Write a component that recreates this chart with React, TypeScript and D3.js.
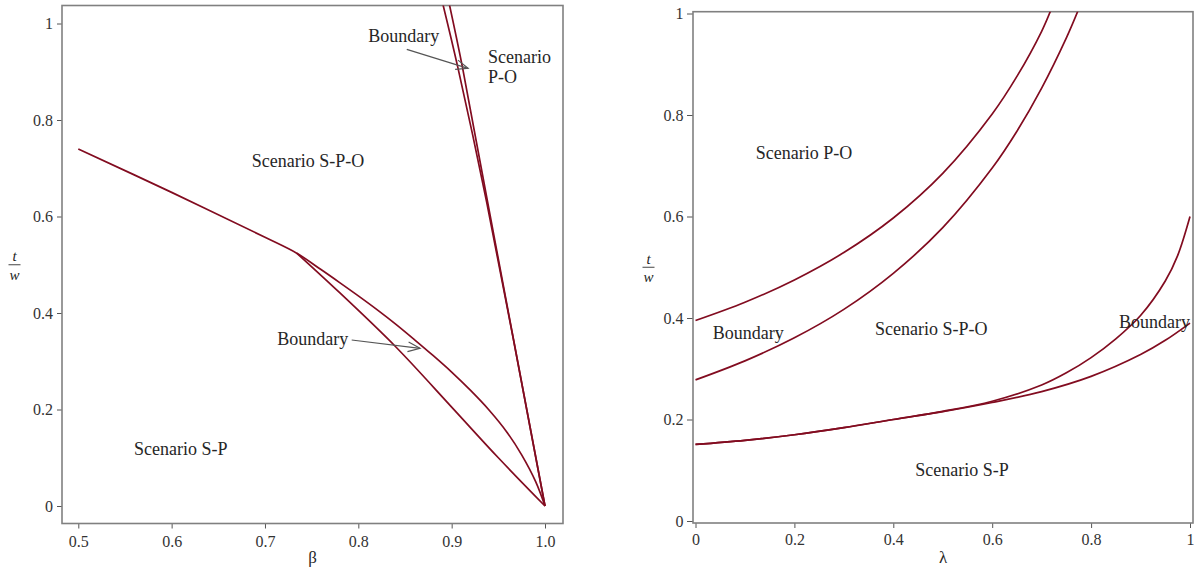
import React, { useEffect, useRef } from 'react';
import * as d3 from 'd3';

// ---- left panel: t/w against beta ----
const betaTicks = [0.5, 0.6, 0.7, 0.8, 0.9, 1.0];
const betaTickLabels = ['0.5', '0.6', '0.7', '0.8', '0.9', '1.0'];
const twTicks = [0, 0.2, 0.4, 0.6, 0.8, 1];
const twTickLabels = ['0', '0.2', '0.4', '0.6', '0.8', '1'];

// S-P boundary: shared start, then the upper branch after the split
const outerBeta = [0.5, 0.6, 0.7, 0.734, 0.76, 0.78, 0.8, 0.82, 0.84, 0.86, 0.88, 0.9, 0.92, 0.94, 0.96, 0.975, 0.99, 1.0];
const outerTw = [0.74, 0.65, 0.557, 0.524, 0.49, 0.463, 0.4355, 0.407, 0.377, 0.345, 0.312, 0.2775, 0.24, 0.199, 0.151, 0.106, 0.0505, 0];
// lower branch after the split
const innerBeta = [0.734, 0.78, 0.84, 0.9, 0.95, 1.0];
const innerTw = [0.524, 0.442, 0.33, 0.205, 0.1, 0];
// the two steep P-O boundaries
const steepABeta = [0.8906, 0.9065, 0.9375, 1.0];
const steepATw = [1.04, 0.91, 0.63, 0];
const steepBBeta = [0.8975, 0.9115, 0.9385, 1.0];
const steepBTw = [1.04, 0.91, 0.63, 0];

// ---- right panel: t/w against lambda ----
const lambdaTicks = [0, 0.2, 0.4, 0.6, 0.8, 1];
const lambdaTickLabels = ['0', '0.2', '0.4', '0.6', '0.8', '1'];

const poLambda = [0, 0.1, 0.2, 0.3, 0.4, 0.5, 0.6, 0.65, 0.7, 0.72];
const poTw = [0.395, 0.431, 0.475, 0.529, 0.597, 0.685, 0.802, 0.876, 0.965, 1.01];
const spoLambda = [0, 0.1, 0.2, 0.3, 0.4, 0.5, 0.6, 0.65, 0.7, 0.75, 0.775];
const spoTw = [0.278, 0.3155, 0.361, 0.417, 0.488, 0.578, 0.6955, 0.768, 0.853, 0.952, 1.009];
const spSteepLambda = [0, 0.1, 0.2, 0.3, 0.4, 0.5, 0.6, 0.7, 0.75, 0.8, 0.85, 0.9, 0.95, 0.975, 1.0];
const spSteepTw = [0.151, 0.159, 0.17, 0.184, 0.2, 0.216, 0.236, 0.268, 0.292, 0.322, 0.359, 0.405, 0.473, 0.523, 0.6];
const spFlatLambda = [0, 0.1, 0.2, 0.3, 0.4, 0.5, 0.6, 0.7, 0.8, 0.9, 0.95, 1.0];
const spFlatTw = [0.151, 0.159, 0.17, 0.184, 0.2, 0.2155, 0.2335, 0.255, 0.285, 0.328, 0.356, 0.39];

const FONT = "'Liberation Serif', 'Times New Roman', Times, serif";
const CURVE = '#820c20';
const FRAME = '#808080';
const INK = '#262626';

type Note = { text: string; x: number; y: number };
type Arrow = { from: [number, number]; to: [number, number] };

const leftNotes: Note[] = [
  { text: 'Boundary', x: 0.8107, y: 0.962 },
  { text: 'Scenario', x: 0.939, y: 0.919 },
  { text: 'P-O', x: 0.939, y: 0.877 },
  { text: 'Scenario S-P-O', x: 0.6858, y: 0.7032 },
  { text: 'Boundary', x: 0.7132, y: 0.3337 },
  { text: 'Scenario S-P', x: 0.5597, y: 0.1057 },
];
const leftArrows: Arrow[] = [
  { from: [0.8519, 0.9465], to: [0.9176, 0.9071] },
  { from: [0.7929, 0.344], to: [0.8661, 0.3268] },
];
const rightNotes: Note[] = [
  { text: 'Scenario P-O', x: 0.1217, y: 0.7127 },
  { text: 'Boundary', x: 0.0348, y: 0.358 },
  { text: 'Scenario S-P-O', x: 0.363, y: 0.3665 },
  { text: 'Boundary', x: 0.8564, y: 0.3797 },
  { text: 'Scenario S-P', x: 0.4445, y: 0.0887 },
];

type Panel = {
  id: string;
  x: d3.ScaleLinear<number, number>;
  y: d3.ScaleLinear<number, number>;
  frame: [number, number, number, number];
  xTicks: number[];
  xLabels: string[];
  xTitle: string;
  xPad: number;
  yTickSize: number;
  yPad: number;
  yTitleX: number;
  curves: [number[], number[]][];
  notes: Note[];
  arrows: Arrow[];
};

const panels: Panel[] = [
  {
    id: 'clip-beta',
    x: d3.scaleLinear().domain([0.5, 1]).range([78.3, 545]),
    y: d3.scaleLinear().domain([0, 1]).range([506, 23.5]),
    frame: [62, 5.5, 563, 523.5],
    xTicks: betaTicks,
    xLabels: betaTickLabels,
    xTitle: 'β',
    xPad: 7,
    yTickSize: 5,
    yPad: 4,
    yTitleX: 14.5,
    curves: [
      [outerBeta, outerTw],
      [innerBeta, innerTw],
      [steepABeta, steepATw],
      [steepBBeta, steepBTw],
    ],
    notes: leftNotes,
    arrows: leftArrows,
  },
  {
    id: 'clip-lambda',
    x: d3.scaleLinear().domain([0, 1]).range([695.5, 1190]),
    y: d3.scaleLinear().domain([0, 1]).range([521, 13.5]),
    frame: [693, 11.7, 1193, 523],
    xTicks: lambdaTicks,
    xLabels: lambdaTickLabels,
    xTitle: 'λ',
    xPad: 5.6,
    yTickSize: 6,
    yPad: 3.5,
    yTitleX: 648.5,
    curves: [
      [poLambda, poTw],
      [spoLambda, spoTw],
      [spSteepLambda, spSteepTw],
      [spFlatLambda, spFlatTw],
    ],
    notes: rightNotes,
    arrows: [],
  },
];

function drawPanel(svg: d3.Selection<SVGSVGElement, unknown, null, undefined>, p: Panel) {
  const [fx0, fy0, fx1, fy1] = p.frame;
  const g = svg.append('g').style('font-family', FONT);

  g.append('clipPath').attr('id', p.id)
    .append('rect')
    .attr('x', fx0).attr('y', fy0)
    .attr('width', fx1 - fx0).attr('height', fy1 - fy0);

  // axes
  const xAxis = d3.axisBottom(p.x)
    .tickValues(p.xTicks)
    .tickFormat((d, i) => p.xLabels[i])
    .tickSizeInner(5).tickSizeOuter(0)
    .tickPadding(p.xPad);
  const yAxis = d3.axisLeft(p.y)
    .tickValues(twTicks)
    .tickFormat((d, i) => twTickLabels[i])
    .tickSizeInner(p.yTickSize).tickSizeOuter(0)
    .tickPadding(p.yPad);

  [
    g.append('g').attr('transform', `translate(0,${fy1})`).call(xAxis),
    g.append('g').attr('transform', `translate(${fx0},0)`).call(yAxis),
  ].forEach((a) => {
    a.select('.domain').remove();
    a.attr('font-family', null).attr('font-size', null);
    a.style('font-family', FONT).style('font-size', '16px');
    a.selectAll('.tick line').attr('stroke', '#555').attr('stroke-width', 1);
    a.selectAll('.tick text').attr('fill', '#333');
  });

  // frame
  g.append('rect')
    .attr('x', fx0).attr('y', fy0)
    .attr('width', fx1 - fx0).attr('height', fy1 - fy0)
    .attr('fill', 'none')
    .attr('stroke', FRAME)
    .attr('stroke-width', 1.6);

  // axis titles
  g.append('text')
    .attr('x', (fx0 + fx1) / 2).attr('y', 563)
    .attr('text-anchor', 'middle')
    .style('font-size', '17px')
    .attr('fill', INK)
    .text(p.xTitle);

  const lx = p.yTitleX;
  const ly = p.y(0.5);
  g.append('text')
    .attr('x', lx).attr('y', ly - 3.5)
    .attr('text-anchor', 'middle')
    .style('font-size', '15px').style('font-style', 'italic')
    .attr('fill', INK).text('t');
  g.append('line')
    .attr('x1', lx - 6).attr('x2', lx + 6)
    .attr('y1', ly).attr('y2', ly)
    .attr('stroke', '#444').attr('stroke-width', 1);
  g.append('text')
    .attr('x', lx).attr('y', ly + 15)
    .attr('text-anchor', 'middle')
    .style('font-size', '15px').style('font-style', 'italic')
    .attr('fill', INK).text('w');

  // curves
  const line = d3.line<[number, number]>()
    .x((d) => p.x(d[0]))
    .y((d) => p.y(d[1]))
    .curve(d3.curveCatmullRom.alpha(0.5));

  p.curves.forEach(([xs, ys]) => {
    g.append('path')
      .datum(d3.zip(xs, ys) as [number, number][])
      .attr('d', line)
      .attr('fill', 'none')
      .attr('stroke', CURVE)
      .attr('stroke-width', 1.7)
      .attr('clip-path', `url(#${p.id})`);
  });

  // labels
  g.selectAll('text.note')
    .data(p.notes)
    .enter()
    .append('text')
    .attr('class', 'note')
    .attr('x', (d) => p.x(d.x))
    .attr('y', (d) => p.y(d.y))
    .style('font-size', '18px')
    .attr('fill', INK)
    .text((d) => d.text);

  // annotation arrows
  p.arrows.forEach((a) => {
    const x1 = p.x(a.from[0]);
    const y1 = p.y(a.from[1]);
    const x2 = p.x(a.to[0]);
    const y2 = p.y(a.to[1]);
    const ang = Math.atan2(y2 - y1, x2 - x1);
    const len = 13;
    const spread = 0.38;
    g.append('line')
      .attr('x1', x1).attr('y1', y1).attr('x2', x2).attr('y2', y2)
      .attr('stroke', '#555').attr('stroke-width', 1.2);
    g.append('path')
      .attr('d', `M${x2 - len * Math.cos(ang - spread)},${y2 - len * Math.sin(ang - spread)}`
        + `L${x2},${y2}`
        + `L${x2 - len * Math.cos(ang + spread)},${y2 - len * Math.sin(ang + spread)}`)
      .attr('fill', 'none')
      .attr('stroke', '#555').attr('stroke-width', 1.2);
  });
}

export default function App() {
  const ref = useRef<SVGSVGElement>(null);

  useEffect(() => {
    const svg = d3.select(ref.current as SVGSVGElement);
    svg.selectAll('*').remove();
    panels.forEach((p) => drawPanel(svg, p));
  }, []);

  return (
    <svg
      ref={ref}
      width={1194}
      height={569}
      style={{ position: 'absolute', left: 0, top: 0, background: '#fff', display: 'block', fontFamily: FONT }}
    />
  );
}
